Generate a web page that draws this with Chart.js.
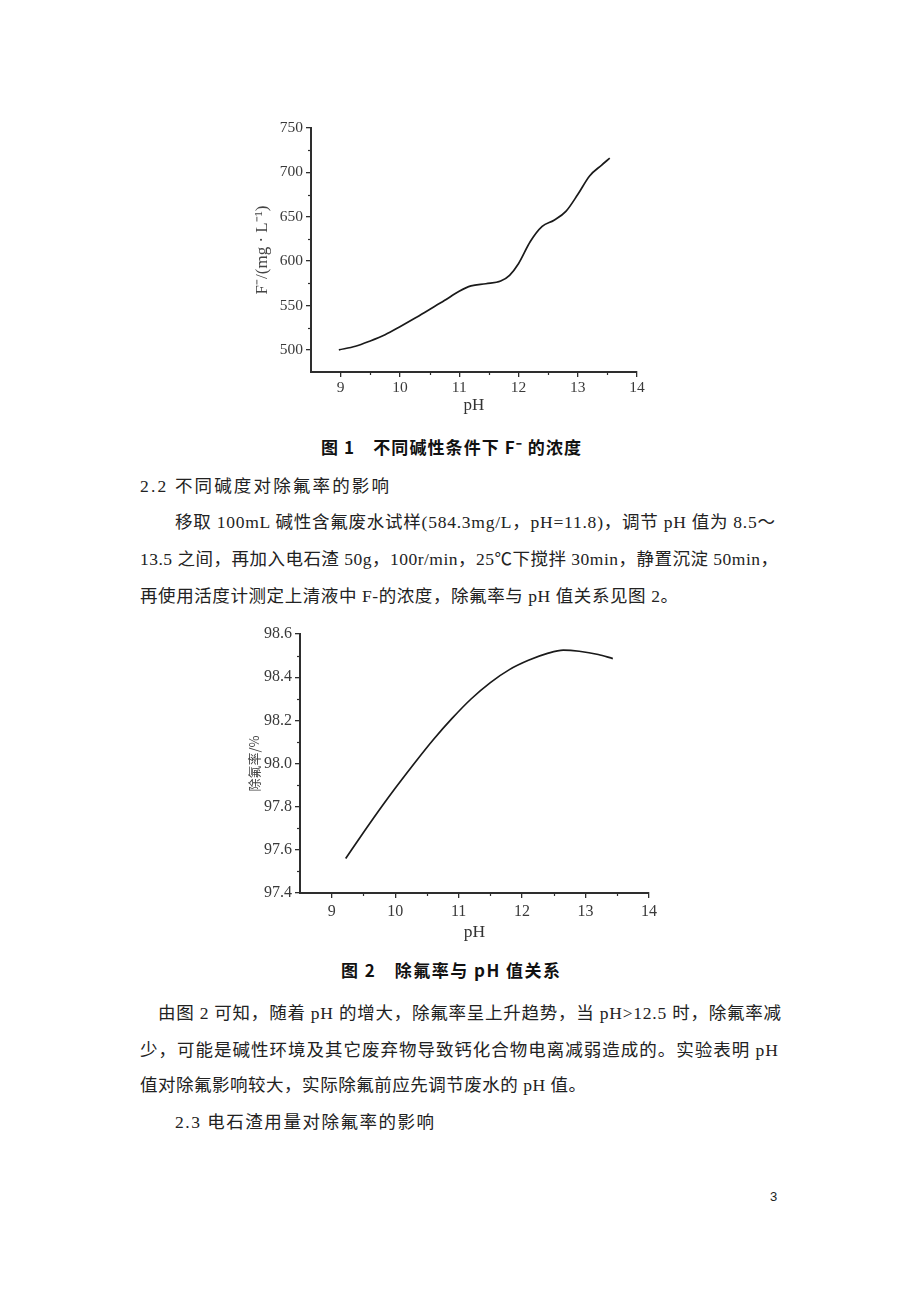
<!DOCTYPE html>
<html lang="zh-CN">
<head>
<meta charset="utf-8">
<title>不同碱度对除氟率的影响</title>
<script src="https://cdn.jsdelivr.net/npm/chart.js@4.4.1/dist/chart.umd.min.js"></script>
<style>
  html, body { margin: 0; padding: 0; background: #fff; }
  body { position: relative; width: 920px; height: 1302px; overflow: hidden; color: #222; }
  .line { position: absolute; white-space: nowrap; font-family: 'Liberation Serif', 'Noto Sans CJK SC', serif; font-size: 17.5px; line-height: 24px; }
  .cap { position: absolute; white-space: nowrap; font-family: 'Noto Sans CJK SC', sans-serif; font-weight: bold; font-size: 17px; line-height: 24px; color: #111; }
  .pg { position: absolute; font-family: 'Liberation Sans', sans-serif; font-size: 13px; line-height: 16px; }
  canvas { position: absolute; }
</style>
</head>
<body>
<canvas id="fig1" width="420" height="320" style="left:240px;top:110px"></canvas>
<div class="cap" data-end="581" style="left:321px;top:435px">图 1　不同碱性条件下 F⁻ 的浓度</div>

<div class="line" data-end="389" style="left:140px;top:474px">2.2 不同碱度对除氟率的影响</div>
<div class="line" data-end="775" style="left:175px;top:510px">移取 100mL 碱性含氟废水试样(584.3mg/L，pH=11.8)，调节 pH 值为 8.5～</div>
<div class="line" data-end="778" style="left:140px;top:547px">13.5 之间，再加入电石渣 50g，100r/min，25℃下搅拌 30min，静置沉淀 50min，</div>
<div class="line" data-end="678" style="left:140px;top:584px">再使用活度计测定上清液中 F-的浓度，除氟率与 pH 值关系见图 2。</div>

<canvas id="fig2" width="440" height="335" style="left:230px;top:615px"></canvas>
<div class="cap" data-end="560" style="left:341px;top:958px">图 2　除氟率与 pH 值关系</div>

<div class="line" data-end="781" style="left:158px;top:1001px">由图 2 可知，随着 pH 的增大，除氟率呈上升趋势，当 pH&gt;12.5 时，除氟率减</div>
<div class="line" data-end="778" style="left:140px;top:1038px">少，可能是碱性环境及其它废弃物导致钙化合物电离减弱造成的。实验表明 pH</div>
<div class="line" data-end="586" style="left:140px;top:1073px">值对除氟影响较大，实际除氟前应先调节废水的 pH 值。</div>
<div class="line" data-end="434" style="left:175px;top:1110px">2.3 电石渣用量对除氟率的影响</div>

<div class="pg" style="left:770px;top:1189px">3</div>

<script>
// fig 1: F- concentration vs pH
const ph1 = [8.97, 9.25, 9.5, 9.75, 10.0, 10.25, 10.5, 10.75, 11.0, 11.2, 11.45, 11.7, 11.85, 12.0, 12.2, 12.4, 12.6, 12.8, 13.0, 13.2, 13.4, 13.54]
const fluoride = [500, 504, 510, 517, 526, 535.5, 545.5, 555.5, 566, 572, 574.5, 577.5, 584, 597, 622, 639, 646, 656, 675, 696, 708, 716]

// fig 2: fluoride removal rate vs pH
const ph2 = [9.22, 9.5, 9.8, 10.0, 10.3, 10.6, 10.9, 11.2, 11.5, 11.8, 12.1, 12.4, 12.65, 12.9, 13.2, 13.43]
const removal = [97.56, 97.68, 97.805, 97.885, 98.0, 98.11, 98.21, 98.3, 98.375, 98.435, 98.478, 98.51, 98.525, 98.52, 98.505, 98.486]

const phTicks = [9, 10, 11, 12, 13, 14]
const fluorideTicks = [500, 550, 600, 650, 700, 750]
const removalTicks = [97.4, 97.6, 97.8, 98.0, 98.2, 98.4, 98.6]

// stretch each text line so its last glyph ends where it does on the page
document.querySelectorAll('[data-end]').forEach((el) => {
  const text = Array.from(el.textContent)
  const left = parseFloat(el.style.left)
  const target = parseFloat(el.dataset.end) - left
  const natural = el.getBoundingClientRect().width
  el.style.letterSpacing = (target - natural) / (text.length - 1) + 'px'
})

const axisColor = '#2e2e2e'

const minorTicks = {
  id: 'minorTicks',
  afterDraw: function (chart, args, options) {
    const { ctx, chartArea } = chart
    ctx.save()
    ctx.strokeStyle = options.color
    ctx.lineWidth = options.width
    for (const id of ['x', 'y']) {
      const scale = chart.scales[id]
      const step = options[id]
      const first = Math.ceil(scale.min / step)
      for (let i = first; i * step <= scale.max + 1e-9; i++) {
        const v = i * step
        if (Math.abs(v - scale.min) < 1e-9) continue
        if (scale.ticks.some((t) => Math.abs(t.value - v) < 1e-9)) continue
        const p = Math.round(scale.getPixelForValue(v)) + 0.5
        ctx.beginPath()
        if (id === 'x') {
          ctx.moveTo(p, chartArea.bottom)
          ctx.lineTo(p, chartArea.bottom + options.length)
        } else {
          ctx.moveTo(chartArea.left, p)
          ctx.lineTo(chartArea.left - options.length, p)
        }
        ctx.stroke()
      }
    }
    ctx.restore()
  },
}

Chart.register(minorTicks)

function createCurveChart(canvas, cfg) {
  return new Chart(canvas, {
    type: 'line',
    data: {
      datasets: [
        {
          data: cfg.xs.map((x, i) => ({ x, y: cfg.ys[i] })),
          borderColor: '#1a1a1a',
          borderWidth: 1.7,
          pointRadius: 0,
          cubicInterpolationMode: 'monotone',
          fill: false,
        },
      ],
    },
    options: {
      responsive: false,
      animation: false,
      layout: { padding: cfg.padding },
      plugins: {
        legend: { display: false },
        tooltip: { enabled: false },
        minorTicks: { x: 0.5, y: cfg.yMinor, length: 3, color: axisColor, width: 1.2 },
      },
      scales: {
        x: {
          type: 'linear',
          min: 8.5,
          max: 14,
          afterBuildTicks: (scale) => {
            scale.ticks = phTicks.map((value) => ({ value }))
          },
          afterFit: (scale) => {
            scale.height = cfg.xHeight
          },
          grid: { drawOnChartArea: false, drawTicks: true, tickLength: 5, color: axisColor, lineWidth: 1.3 },
          border: { display: true, color: axisColor, width: 2 },
          ticks: {
            color: '#3a3a3a',
            padding: cfg.xPad,
            maxRotation: 0,
            font: { family: "'Liberation Serif', serif", size: cfg.tickSize },
            callback: (v) => String(v),
          },
          title: {
            display: true,
            text: 'pH',
            color: '#333',
            padding: { top: 0, bottom: cfg.xTitlePad },
            font: { family: "'Liberation Serif', serif", size: cfg.xTitleSize },
          },
        },
        y: {
          type: 'linear',
          min: cfg.yMin,
          max: cfg.yMax,
          afterBuildTicks: (scale) => {
            scale.ticks = cfg.yTicks.map((value) => ({ value }))
          },
          afterFit: (scale) => {
            scale.width = cfg.yWidth
          },
          grid: { drawOnChartArea: false, drawTicks: true, tickLength: 5, color: axisColor, lineWidth: 1.3 },
          border: { display: true, color: axisColor, width: 2 },
          ticks: {
            color: '#3a3a3a',
            padding: 3,
            font: { family: "'Liberation Serif', serif", size: cfg.tickSize },
            callback: cfg.yFormat,
          },
          title: {
            display: true,
            text: cfg.yTitle,
            color: '#444',
            padding: { top: cfg.yTitlePad, bottom: 0 },
            font: { family: cfg.yTitleFont, size: cfg.yTitleSize },
          },
        },
      },
    },
  })
}

createCurveChart(document.getElementById('fig1'), {
  xs: ph1,
  ys: fluoride,
  yMin: 475,
  yMax: 750,
  yTicks: fluorideTicks,
  yMinor: 25,
  yFormat: (v) => String(v),
  yTitle: 'F⁻/(mg · L⁻¹)',
  yTitleFont: "'Liberation Serif', serif",
  yTitleSize: 17,
  yTitlePad: 12,
  yWidth: 71,
  xHeight: 58,
  xPad: 2,
  xTitlePad: 14,
  xTitleSize: 17,
  tickSize: 15.5,
  padding: { left: 0, top: 18, right: 23, bottom: 0 },
})

createCurveChart(document.getElementById('fig2'), {
  xs: ph2,
  ys: removal,
  yMin: 97.4,
  yMax: 98.6,
  yTicks: removalTicks,
  yMinor: 0.1,
  yFormat: (v) => v.toFixed(1),
  yTitle: '除氟率/%',
  yTitleFont: "'Noto Sans CJK SC', sans-serif",
  yTitleSize: 13,
  yTitlePad: 16,
  yWidth: 70,
  xHeight: 57,
  xPad: 4,
  xTitlePad: 7,
  xTitleSize: 17.5,
  tickSize: 16,
  padding: { left: 0, top: 19, right: 21, bottom: 0 },
})
</script>
</body>
</html>
